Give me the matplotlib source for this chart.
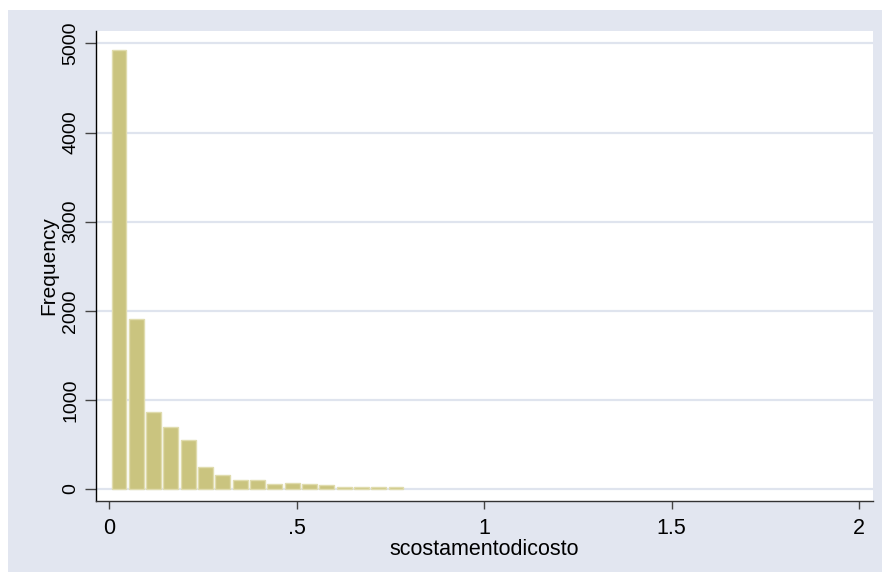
import matplotlib
matplotlib.use("Agg")
import matplotlib.pyplot as plt
from matplotlib.patches import Rectangle
import numpy as np

# Histogram data
bin_start = 0.0027
bin_width = 0.0462
counts = [4927, 1905, 868, 699, 550, 243, 161, 101, 97, 56, 64, 52, 41, 19, 19, 22, 19]
x_ticks = [0, 0.5, 1, 1.5, 2]
x_tick_labels = ["0", ".5", "1", "1.5", "2"]
y_ticks = [0, 1000, 2000, 3000, 4000, 5000]
y_tick_labels = ["0", "1000", "2000", "3000", "4000", "5000"]

plt.rcParams['font.family'] = ['Liberation Sans', 'DejaVu Sans']

bg = "#e2e6f0"
grid_c = "#dfe4ee"
fig = plt.figure(figsize=(8.82, 5.72), dpi=100, facecolor=bg)
# white strips on top and left (cropped border)
fig.patches.append(Rectangle((0, 1 - 10/572), 1, 10/572, transform=fig.transFigure,
                             facecolor="white", edgecolor="none", zorder=0))
fig.patches.append(Rectangle((0, 0), 8/882, 1, transform=fig.transFigure,
                             facecolor="white", edgecolor="none", zorder=0))

ax = fig.add_axes([96/882, 1 - 501/572, (873 - 96)/882, (501 - 31)/572])
ax.set_facecolor("white")

lefts = bin_start + bin_width * np.arange(len(counts))
ax.bar(lefts + bin_width / 2, counts, width=bin_width * 0.86,
       color="#cac47f", edgecolor="#e0dcae", linewidth=1.0, zorder=3)

ax.set_xlim(-0.0355, 2.0376)
ax.set_ylim(-135, 5140)

ax.set_yticks(y_ticks)
ax.set_yticklabels(y_tick_labels, rotation=90, va="center", fontsize=14)
ax.set_xticks(x_ticks)
ax.set_xticklabels(x_tick_labels, fontsize=15.5)
ax.yaxis.grid(True, color=grid_c, linewidth=1.6, zorder=0)
ax.set_axisbelow(True)

for s in ["top", "right"]:
    ax.spines[s].set_visible(False)
ax.spines["left"].set_color("black")
ax.spines["left"].set_linewidth(1.0)
ax.spines["bottom"].set_color("#333333")
ax.spines["bottom"].set_linewidth(1.0)

ax.tick_params(axis="y", direction="out", length=8, width=1.0, color="#444444", pad=4)
ax.tick_params(axis="x", direction="out", length=6, width=1.0, color="#444444", pad=6)

ax.set_ylabel("Frequency", fontsize=15, labelpad=3)
ax.set_xlabel("scostamentodicosto", fontsize=15.5, labelpad=0)

fig.savefig("out.png", dpi=100, facecolor=fig.get_facecolor())
